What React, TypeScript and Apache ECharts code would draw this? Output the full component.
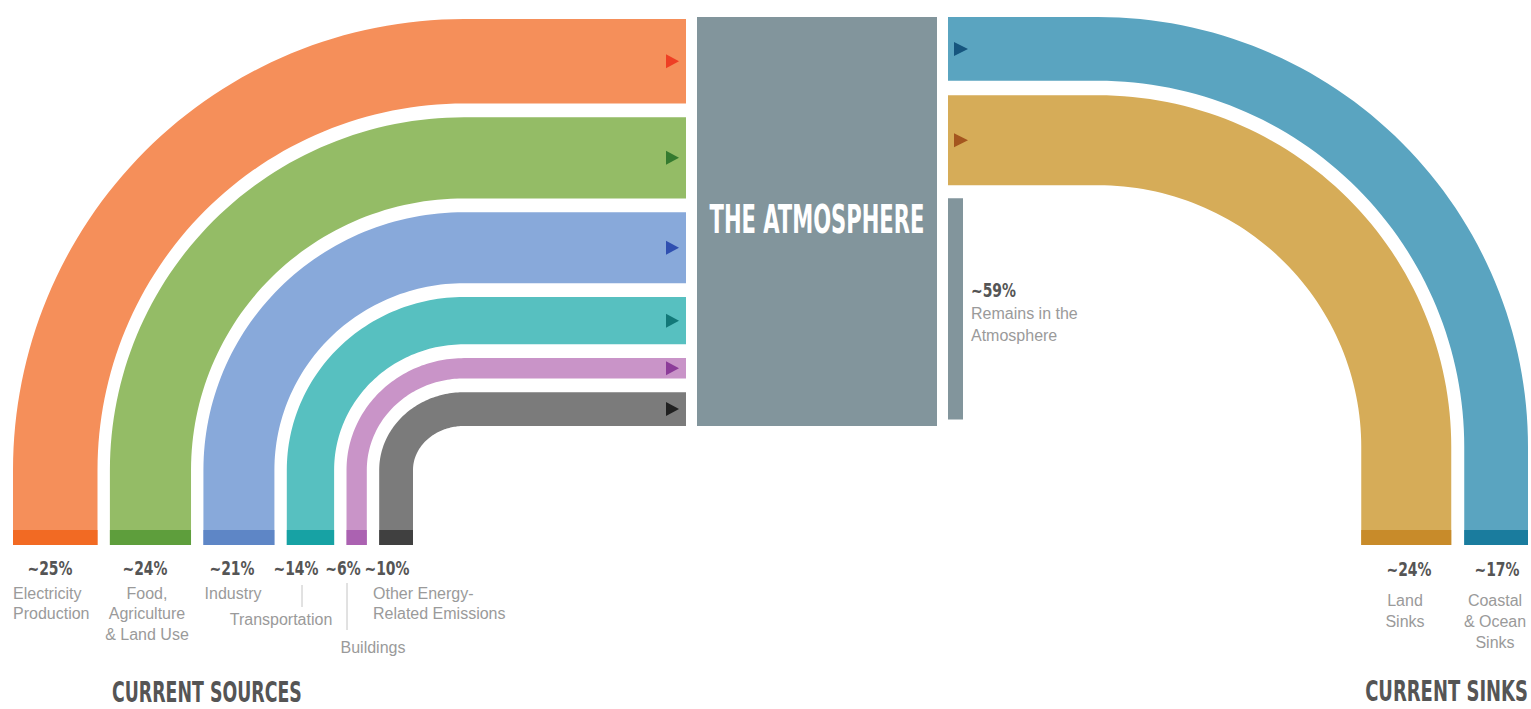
import React, { useEffect, useRef } from "react";
import * as echarts from "echarts";

const W = 1531;
const H = 709;

// ---------- data ----------
const sourceNames = [
  "Electricity Production",
  "Food, Agriculture & Land Use",
  "Industry",
  "Transportation",
  "Buildings",
  "Other Energy-Related Emissions",
];
const sourceValues = [25, 24, 21, 14, 6, 10];
const sourceValueLabels = ["~25%", "~24%", "~21%", "~14%", "~6%", "~10%"];
const sourceLabelLines = [
  ["Electricity", "Production"],
  ["Food,", "Agriculture", "& Land Use"],
  ["Industry"],
  ["Transportation"],
  ["Buildings"],
  ["Other Energy-", "Related Emissions"],
];
const sinkNames = ["Coastal & Ocean Sinks", "Land Sinks"];
const sinkValues = [17, 24];
const sinkValueLabels = ["~17%", "~24%"];
const sinkLabelLines = [
  ["Coastal", "& Ocean", "Sinks"],
  ["Land", "Sinks"],
];
const remainsValue = 59;
const remainsValueLabel = "~59%";
const remainsLabelLines = ["Remains in the", "Atmosphere"];
const centerTitle = "THE ATMOSPHERE";
const sourcesTitle = "CURRENT SOURCES";
const sinksTitle = "CURRENT SINKS";

// ---------- styles ----------
const sourceFill = ["#F58F5A", "#94BC66", "#88A9DA", "#57C0C0", "#C994C8", "#7B7B7B"];
const sourceStripe = ["#F26A23", "#5E9E3C", "#5E86C6", "#17A2A4", "#AB62B1", "#404040"];
const sourceArrow = ["#EE3F24", "#347A2F", "#2F4FB0", "#127878", "#8C3C99", "#202020"];
const sinkFill = ["#5AA4C0", "#D6AC58"];
const sinkStripe = ["#1A7C9E", "#C88B2A"];
const sinkArrow = ["#16557E", "#A4561F"];
const atmosphereFill = "#82959C";
const darkText = "#555555";
const lightText = "#9A9A9A";

// ---------- layout ----------
const L = { cx: 464, cy: 470, r0: 451, k: 3.38, gapX: 12.4, gapY: 13.8, xEnd: 686, yBottom: 545, stripeTop: 530, arrowTip: 679, arrowLen: 13, arrowHalf: 7 };
const R = { cx: 1098, cy: 447, r0: 430, k: 3.75, gapX: 13, gapY: 14.5, xStart: 948, yBottom: 545, stripeTop: 530, arrowBase: 954, arrowLen: 14, arrowHalf: 7, remainsGap: 13, remainsWidth: 15 };
const BOX = { x0: 697, x1: 937 };
const N = 64;

const sourceLabelLayout: any[] = [
  { pctX: 50, textX: 13, align: "left", textY: 593 },
  { pctX: 145, textX: 147, align: "center", textY: 593 },
  { pctX: 232, textX: 233, align: "center", textY: 593 },
  { pctX: 296, textX: 281, align: "center", textY: 619, leader: [302, 585, 607] },
  { pctX: 343, textX: 373, align: "center", textY: 647, leader: [347, 583, 630] },
  { pctX: 387, textX: 373, align: "left", textY: 593 },
];
const sinkLabelLayout: any[] = [
  { pctX: 1497, textX: 1495, align: "center", textY: 600 },
  { pctX: 1409, textX: 1405, align: "center", textY: 600 },
];

const COND = "'Liberation Sans Narrow','DejaVu Sans Condensed','Roboto Condensed',Roboto,'Liberation Sans',sans-serif";
const PLAIN = "'Liberation Sans',Arial,'Helvetica Neue',sans-serif";

function measure(text: string, font: string): number {
  const c = document.createElement("canvas").getContext("2d");
  if (!c) return text.length * 10;
  c.font = font;
  return c.measureText(text).width || 1;
}

function txt(text: string, x: number, y: number, font: string, fill: string, align: string, scaleX = 1) {
  return {
    type: "text",
    x,
    y,
    z: 100,
    zlevel: 0,
    scaleX,
    silent: true,
    style: {
      text,
      font,
      fill,
      align,
      verticalAlign: "middle",
      textAlign: align,
      textVerticalAlign: "middle",
    },
  };
}

function renderSource(params: any, api: any) {
  const i = params.dataIndex;
  const v = api.value(1);
  let offX = 0;
  let offY = 0;
  for (let j = 0; j < i; j++) {
    offX += sourceValues[j] * L.k + L.gapX;
    offY += sourceValues[j] * L.k + L.gapY;
  }
  const w = v * L.k;
  const rxo = L.r0 - offX;
  const rxi = rxo - w;
  const ryo = L.r0 - offY;
  const ryi = ryo - w;
  const pts: number[][] = [];
  pts.push([L.cx - rxo, L.yBottom]);
  for (let s = 0; s <= N; s++) {
    const t = Math.PI + (s / N) * (Math.PI / 2);
    pts.push([L.cx + rxo * Math.cos(t), L.cy + ryo * Math.sin(t)]);
  }
  pts.push([L.xEnd, L.cy - ryo]);
  pts.push([L.xEnd, L.cy - ryi]);
  for (let s = N; s >= 0; s--) {
    const t = Math.PI + (s / N) * (Math.PI / 2);
    pts.push([L.cx + rxi * Math.cos(t), L.cy + ryi * Math.sin(t)]);
  }
  pts.push([L.cx - rxi, L.yBottom]);
  const poly = pts.map((p) => api.coord(p));
  const s0 = api.coord([L.cx - rxo, L.stripeTop]);
  const s1 = api.coord([L.cx - rxi, L.yBottom]);
  const yc = L.cy - (ryo + ryi) / 2;
  const arrow = [
    api.coord([L.arrowTip, yc]),
    api.coord([L.arrowTip - L.arrowLen, yc - L.arrowHalf]),
    api.coord([L.arrowTip - L.arrowLen, yc + L.arrowHalf]),
  ];
  return {
    type: "group",
    children: [
      { type: "polygon", shape: { points: poly }, style: { fill: sourceFill[i] } },
      { type: "rect", shape: { x: s0[0], y: s0[1], width: s1[0] - s0[0], height: s1[1] - s0[1] }, style: { fill: sourceStripe[i] } },
      { type: "polygon", shape: { points: arrow }, style: { fill: sourceArrow[i] } },
    ],
  };
}

function renderSink(params: any, api: any) {
  const i = params.dataIndex;
  const v = api.value(1);
  let offX = 0;
  let offY = 0;
  for (let j = 0; j < i; j++) {
    offX += sinkValues[j] * R.k + R.gapX;
    offY += sinkValues[j] * R.k + R.gapY;
  }
  const w = v * R.k;
  const rxo = R.r0 - offX;
  const rxi = rxo - w;
  const ryo = R.r0 - offY;
  const ryi = ryo - w;
  const pts: number[][] = [];
  pts.push([R.xStart, R.cy - ryo]);
  for (let s = 0; s <= N; s++) {
    const t = -Math.PI / 2 + (s / N) * (Math.PI / 2);
    pts.push([R.cx + rxo * Math.cos(t), R.cy + ryo * Math.sin(t)]);
  }
  pts.push([R.cx + rxo, R.yBottom]);
  pts.push([R.cx + rxi, R.yBottom]);
  for (let s = N; s >= 0; s--) {
    const t = -Math.PI / 2 + (s / N) * (Math.PI / 2);
    pts.push([R.cx + rxi * Math.cos(t), R.cy + ryi * Math.sin(t)]);
  }
  pts.push([R.xStart, R.cy - ryi]);
  const poly = pts.map((p) => api.coord(p));
  const s0 = api.coord([R.cx + rxi, R.stripeTop]);
  const s1 = api.coord([R.cx + rxo, R.yBottom]);
  const yc = R.cy - (ryo + ryi) / 2;
  const arrow = [
    api.coord([R.arrowBase + R.arrowLen, yc]),
    api.coord([R.arrowBase, yc - R.arrowHalf]),
    api.coord([R.arrowBase, yc + R.arrowHalf]),
  ];
  return {
    type: "group",
    children: [
      { type: "polygon", shape: { points: poly }, style: { fill: sinkFill[i] } },
      { type: "rect", shape: { x: s0[0], y: s0[1], width: s1[0] - s0[0], height: s1[1] - s0[1] }, style: { fill: sinkStripe[i] } },
      { type: "polygon", shape: { points: arrow }, style: { fill: sinkArrow[i] } },
    ],
  };
}

function renderRemains(params: any, api: any) {
  const v = api.value(1);
  let off = 0;
  for (let j = 0; j < sinkValues.length; j++) off += sinkValues[j] * R.k + R.gapY;
  const top = R.cy - R.r0 + off - R.gapY + R.remainsGap;
  const p0 = api.coord([R.xStart, top]);
  const p1 = api.coord([R.xStart + R.remainsWidth, top + v * R.k]);
  return { type: "rect", shape: { x: p0[0], y: p0[1], width: p1[0] - p0[0], height: p1[1] - p0[1] }, style: { fill: atmosphereFill } };
}

function renderBox(params: any, api: any) {
  let total = 0;
  for (let j = 0; j < sourceValues.length; j++) total += sourceValues[j] * L.k + (j > 0 ? L.gapY : 0);
  const top = R.cy - R.r0;
  const bottom = L.cy - L.r0 + total;
  const p0 = api.coord([BOX.x0, top]);
  const p1 = api.coord([BOX.x1, bottom]);
  return { type: "rect", shape: { x: p0[0], y: p0[1], width: p1[0] - p0[0], height: p1[1] - p0[1] }, style: { fill: atmosphereFill } };
}

function buildGraphics() {
  const g: any[] = [];
  const titleFont = `bold 39px ${COND}`;
  const titleScale = 215 / measure(centerTitle, titleFont);
  g.push(txt(centerTitle, (BOX.x0 + BOX.x1) / 2, 220, titleFont, "#FFFFFF", "center", titleScale));

  const secFont = `bold 28px ${COND}`;
  g.push(txt(sourcesTitle, 112, 693, secFont, darkText, "left", 190 / measure(sourcesTitle, secFont)));
  g.push(txt(sinksTitle, 1528, 691, secFont, darkText, "right", 163 / measure(sinksTitle, secFont)));

  const pctFont = `bold 19px ${COND}`;
  const pctScale = 45 / measure("~25%", pctFont);
  const lineFont = `16px ${PLAIN}`;

  sourceValueLabels.forEach((lab, i) => {
    const lay = sourceLabelLayout[i];
    g.push(txt(lab, lay.pctX, 568, pctFont, darkText, "center", pctScale));
    sourceLabelLines[i].forEach((ln, k) => {
      g.push(txt(ln, lay.textX, lay.textY + k * 20.5, lineFont, lightText, lay.align));
    });
    if (lay.leader) {
      g.push({
        type: "line",
        z: 100,
        silent: true,
        shape: { x1: lay.leader[0], y1: lay.leader[1], x2: lay.leader[0], y2: lay.leader[2] },
        style: { stroke: "#C4C4C4", lineWidth: 1 },
      });
    }
  });

  sinkValueLabels.forEach((lab, i) => {
    const lay = sinkLabelLayout[i];
    g.push(txt(lab, lay.pctX, 569, pctFont, darkText, "center", pctScale));
    sinkLabelLines[i].forEach((ln, k) => {
      g.push(txt(ln, lay.textX, lay.textY + k * 21, lineFont, lightText, lay.align));
    });
  });

  g.push(txt(remainsValueLabel, 971, 290, pctFont, darkText, "left", pctScale));
  remainsLabelLines.forEach((ln, k) => {
    g.push(txt(ln, 971, 313 + k * 22, lineFont, lightText, "left"));
  });
  return g;
}

export default function App() {
  const ref = useRef<HTMLDivElement>(null);
  useEffect(() => {
    document.body.style.margin = "0";
    if (!ref.current) return;
    const chart = echarts.init(ref.current, undefined, { renderer: "svg" });
    chart.setOption({
      animation: false,
      backgroundColor: "#FFFFFF",
      grid: { left: 0, right: 0, top: 0, bottom: 0 },
      xAxis: { type: "value", min: 0, max: W, show: false },
      yAxis: { type: "value", min: 0, max: H, inverse: true, show: false },
      series: [
        {
          type: "custom",
          name: "Atmosphere",
          renderItem: renderBox,
          data: [[0, sourceValues.reduce((a, b) => a + b, 0)]],
          silent: true,
          z: 1,
        },
        {
          type: "custom",
          name: "Sources",
          renderItem: renderSource,
          data: sourceValues.map((v, i) => ({ name: sourceNames[i], value: [i, v] })),
          silent: true,
          z: 1,
        },
        {
          type: "custom",
          name: "Sinks",
          renderItem: renderSink,
          data: sinkValues.map((v, i) => ({ name: sinkNames[i], value: [i, v] })),
          silent: true,
          z: 1,
        },
        {
          type: "custom",
          name: "Remains",
          renderItem: renderRemains,
          data: [[0, remainsValue]],
          silent: true,
          z: 1,
        },
      ],
      graphic: { elements: buildGraphics() },
    });
    return () => chart.dispose();
  }, []);
  return <div ref={ref} style={{ width: W + "px", height: H + "px" }} />;
}
